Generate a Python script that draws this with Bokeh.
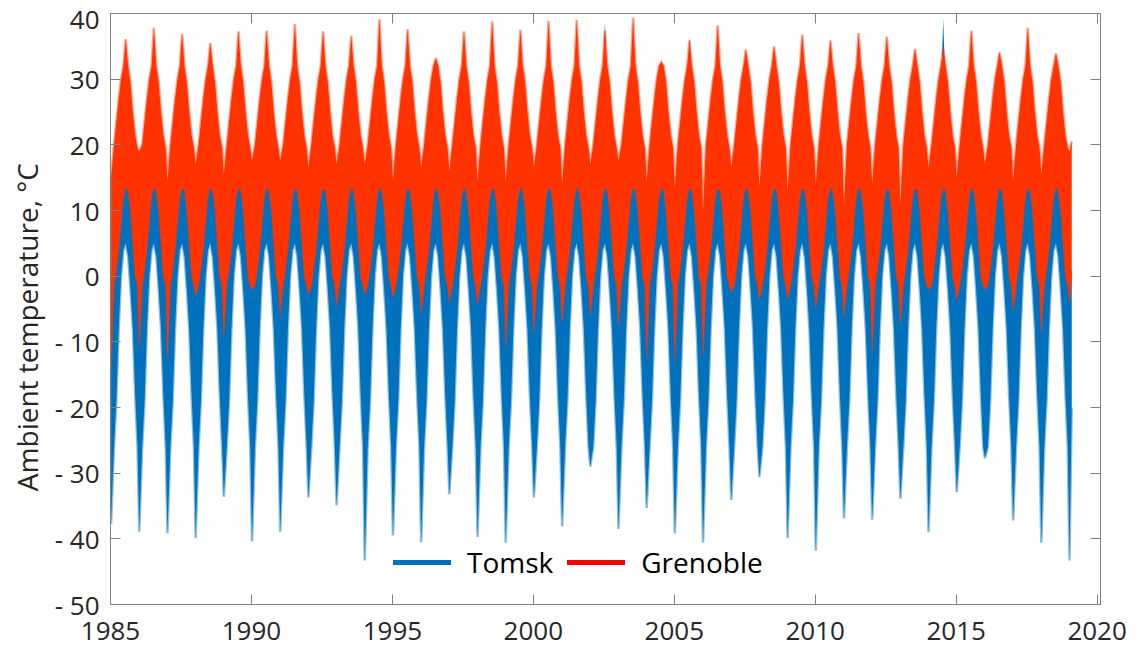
import numpy as np
from bokeh.plotting import figure
from bokeh.models import Range1d, LinearAxis, FixedTicker, Legend, LegendItem
from bokeh.embed import file_html
from bokeh.resources import INLINE

# ---------------- data ----------------
years = list(range(1985, 2019))            # summers 1985..2018, winters Jan 1985..Jan 2019
month_pos = [0.02, 0.125, 0.208, 0.292, 0.375, 0.458, 0.54, 0.625, 0.708, 0.792, 0.875, 0.958]
end_t = 2019.10                             # last day of the record

# Typical monthly envelope of the daily curves (None = month given year by year below)
tomsk_low_typ = [None, -26, -19, -8, 0, 4, 5, 3, -2, -8, -18, -26]
tomsk_high_typ = [0, 1, 5, 13, 22, 28, None, 28, 21, 12, 4, 1]
gren_low_typ = [None, -1.5, 1, 4, 8, 12, 13.5, 13, 10, 5, 0, -1.5]
gren_high_typ = [None, 20, 23.5, 27, 30, 32, None, 32, 29.5, 25, 21.5, 19.5]

# Year-by-year extremes
tomsk_winter_min = [-37.7, -38.9, -39.2, -39.9, -33.6, -40.4, -38.9, -33.7, -34.9, -43.3,
                    -39.5, -40.5, -33.2, -39.7, -40.6, -33.7, -38.1, -29.0, -38.5, -35.3,
                    -39.2, -40.6, -34.1, -30.6, -39.9, -41.8, -36.9, -37.1, -33.9, -39.0,
                    -32.9, -27.7, -37.2, -40.6, -43.3]
tomsk_summer_max = [31, 30, 30, 29, 31, 30, 31, 30, 29, 32, 31, 33, 30, 31, 30, 30, 32,
                    38.8, 31, 33.2, 36.5, 31, 30, 30, 31, 33, 31, 32, 31, 39.2, 31, 30, 31, 30]
gren_winter_min = [-14, -10.9, -12.7, -3, -9.4, -2, -6.1, -2.8, -4.6, -2.8, -3.3, -5.6, -4,
                   -4.3, -10.7, -8.6, -7.1, -6.1, -7.6, -12.7, -13.2, -12.2, -2.5, -3.6, -3.6,
                   -4.8, -6.3, -11.7, -7.4, -2, -3.6, -2, -5.3, -8.6, -4]
gren_winter_top = [15, 19, 14.5, 17, 15.5, 17.5, 17.5, 16.5, 17, 17, 14.5, 16.5, 16, 14.5,
                   14.5, 16.5, 14, 17, 17.5, 14.5, 13.5, 10, 16.5, 13.5, 13, 14, 11, 14,
                   11, 16.5, 15, 17, 14.5, 15.5, 19]
gren_summer_max = [36.1, 37.8, 36.9, 35.5, 37.3, 37.4, 38.4, 37.3, 36.6, 39.1, 37.6, 33.2,
                   37.3, 38.8, 37.5, 38.9, 39.0, 37.4, 39.4, 32.6, 35.9, 38.2, 34.5, 35.0,
                   36.8, 35.9, 37.0, 36.5, 34.6, 34.6, 37.4, 34.1, 37.8, 33.9]
# values on the last day
tomsk_end = (-20, 1)
gren_end = (0, 20.5)

x_ticks = [1985, 1990, 1995, 2000, 2005, 2010, 2015, 2020]
y_ticks = [-50, -40, -30, -20, -10, 0, 10, 20, 30, 40]


def build(typ, jan=None, jul=None, end=None):
    """Assemble a month-by-month envelope from typical months and yearly extremes."""
    t, v = [], []
    for i, y in enumerate(years):
        for m in range(12):
            val = typ[m]
            if m == 0 and jan is not None:
                val = jan[i]
            if m == 6 and jul is not None:
                val = jul[i]
            t.append(y + month_pos[m])
            v.append(val)
    t.append(2019 + month_pos[0])
    v.append(jan[-1] if jan is not None else typ[0])
    t.append(end_t)
    v.append(end)
    return t, v


t, tomsk_lo = build(tomsk_low_typ, jan=tomsk_winter_min, end=tomsk_end[0])
_, tomsk_hi = build(tomsk_high_typ, jul=tomsk_summer_max, end=tomsk_end[1])
_, gren_lo = build(gren_low_typ, jan=gren_winter_min, end=gren_end[0])
_, gren_hi = build(gren_high_typ, jan=gren_winter_top, jul=gren_summer_max, end=gren_end[1])

BLUE = "#0072BD"
RED = "#FF3300"
GREY = "#808080"
TXT = "#262626"
FONT = "Open Sans"

p = figure(width=1140, height=648, output_backend="svg", toolbar_location=None,
           x_range=Range1d(1985, 2020.12), y_range=Range1d(-50, 40),
           min_border_left=110, min_border_right=40, min_border_top=13, min_border_bottom=44)
p.xgrid.visible = False
p.ygrid.visible = False
p.outline_line_color = GREY
p.background_fill_color = "white"
p.border_fill_color = "white"

p.varea(x=t, y1=tomsk_lo, y2=tomsk_hi, fill_color=BLUE)
p.line(x=t, y=tomsk_lo, line_color=BLUE, line_alpha=0.45, line_width=2.5)
p.varea(x=t, y1=gren_lo, y2=gren_hi, fill_color=RED)
p.line(x=t, y=gren_hi, line_color=RED, line_alpha=0.45, line_width=2.5)
p.line(x=t, y=gren_lo, line_color=RED, line_alpha=0.35, line_width=1.5)

# legend proxies (no visible data)
leg_blue = p.line(x=[np.nan], y=[np.nan], line_color=BLUE, line_width=5, line_cap="round")
leg_red = p.line(x=[np.nan], y=[np.nan], line_color="#FF0000", line_width=5, line_cap="round")

for ax in (p.xaxis[0], p.yaxis[0]):
    ax.axis_line_color = GREY
    ax.major_tick_line_color = GREY
    ax.major_tick_in = 10
    ax.major_tick_out = 0
    ax.minor_tick_in = 0
    ax.minor_tick_out = 0
    ax.major_label_text_font = FONT
    ax.major_label_text_font_size = "26px"
    ax.major_label_text_color = TXT

p.xaxis[0].ticker = FixedTicker(ticks=x_ticks)
p.xaxis[0].major_label_standoff = 17
p.yaxis[0].ticker = FixedTicker(ticks=y_ticks)
p.yaxis[0].major_label_standoff = 11
p.yaxis[0].major_label_overrides = {v: ("- %d" % -v if v < 0 else "%d" % v) for v in y_ticks}
p.yaxis[0].axis_label = "Ambient temperature, °C" + "\u00a0" * 5
p.yaxis[0].axis_label_text_font = FONT
p.yaxis[0].axis_label_text_font_size = "28px"
p.yaxis[0].axis_label_text_font_style = "normal"
p.yaxis[0].axis_label_text_color = TXT
p.yaxis[0].axis_label_standoff = 6

# mirrored tick marks on the top and right edges (box on, no labels)
for side, tk in (("right", y_ticks), ("above", x_ticks)):
    ax = LinearAxis(ticker=FixedTicker(ticks=tk), major_label_text_font_size="0px",
                    major_label_standoff=0, major_tick_in=10, major_tick_out=0,
                    minor_tick_in=0, minor_tick_out=0, axis_line_color=GREY,
                    major_tick_line_color=GREY)
    p.add_layout(ax, side)

legend = Legend(items=[LegendItem(label="Tomsk", renderers=[leg_blue]),
                       LegendItem(label="Grenoble", renderers=[leg_red])],
                orientation="horizontal", location=(283, 23), glyph_width=58, glyph_height=30,
                label_standoff=16, spacing=14, padding=0, margin=0,
                border_line_alpha=0, background_fill_alpha=0,
                label_text_font=FONT, label_text_font_size="28px", label_text_color="black")
p.add_layout(legend)

open("out.html", "w").write(file_html(p, INLINE))
